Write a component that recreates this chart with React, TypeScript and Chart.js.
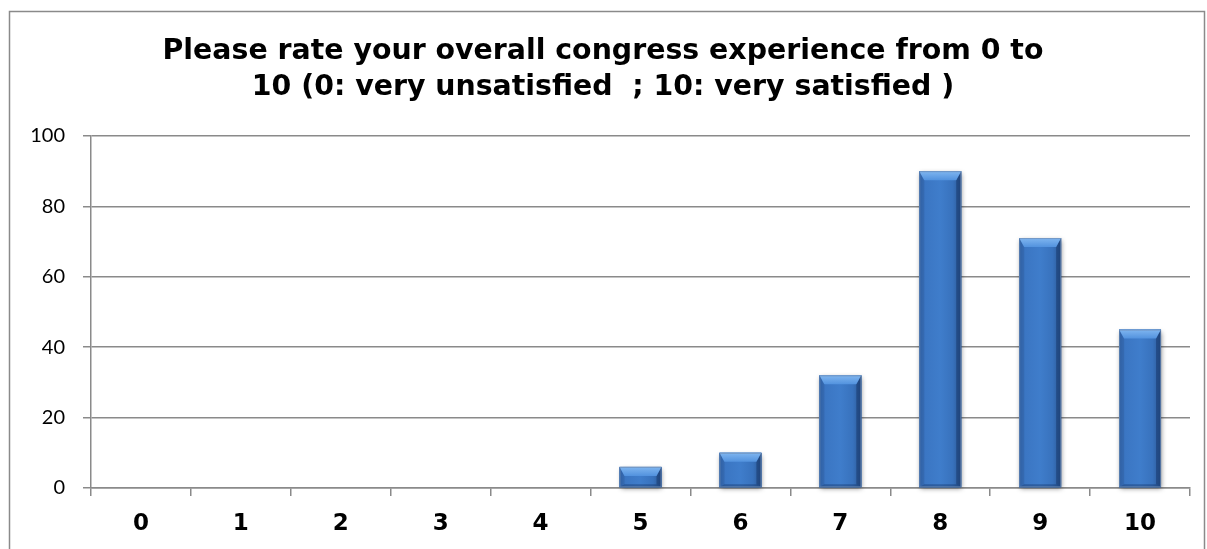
import React, { useEffect, useRef } from "react";
import { Chart, registerables } from "chart.js";

Chart.register(...registerables);

const categories = ["0", "1", "2", "3", "4", "5", "6", "7", "8", "9", "10"];
const responses = [0, 0, 0, 0, 0, 6, 10, 32, 90, 71, 45];
const yTickValues = [0, 20, 40, 60, 80, 100];
const titleLines = [
  "Please rate your overall congress experience from 0 to",
  "10 (0: very unsatisfied  ; 10: very satisfied )",
];

const GRID = "#8a8a8a";

const framePlugin = {
  id: "frame",
  beforeDraw(chart: any) {
    const ctx = chart.ctx;
    ctx.save();
    ctx.fillStyle = "#ffffff";
    ctx.fillRect(0, 0, chart.width, chart.height);
    ctx.strokeStyle = GRID;
    ctx.lineWidth = 1.5;
    ctx.strokeRect(9.5, 11.5, 1195, 600);
    ctx.restore();
  },
};

function barRects(chart: any) {
  const meta = chart.getDatasetMeta(0);
  return meta.data
    .map((el: any) => {
      const p = el.getProps(["x", "y", "base", "width"], true);
      return { x0: p.x - p.width / 2, x1: p.x + p.width / 2, y: p.y, base: p.base };
    })
    .filter((r: any) => r.base - r.y >= 1);
}

const bevelPlugin = {
  id: "bevel",
  beforeDatasetsDraw(chart: any) {
    const ctx = chart.ctx;
    barRects(chart).forEach((r: any) => {
      ctx.save();
      ctx.shadowColor = "rgba(0,0,0,0.45)";
      ctx.shadowBlur = 5;
      ctx.shadowOffsetX = 1;
      ctx.shadowOffsetY = 2;
      ctx.fillStyle = "#2f66ad";
      ctx.fillRect(r.x0, r.y, r.x1 - r.x0, r.base - r.y);
      ctx.restore();
    });
  },
  afterDatasetsDraw(chart: any) {
    const ctx = chart.ctx;
    barRects(chart).forEach((r: any) => {
      const w = r.x1 - r.x0;
      const h = r.base - r.y;
      ctx.save();
      const g = ctx.createLinearGradient(r.x0, 0, r.x1, 0);
      g.addColorStop(0, "#3569ae");
      g.addColorStop(0.15, "#3b76c3");
      g.addColorStop(0.5, "#3f7dcb");
      g.addColorStop(0.8, "#3872bd");
      g.addColorStop(1, "#2b5794");
      ctx.fillStyle = g;
      ctx.fillRect(r.x0, r.y, w, h);
      const b = Math.min(9, h / 2);
      const s = Math.min(5, w / 4);
      const bb = Math.min(3, h / 4);
      ctx.fillStyle = "rgba(25,55,105,0.15)";
      ctx.beginPath();
      ctx.moveTo(r.x0, r.y);
      ctx.lineTo(r.x0 + s, r.y + b);
      ctx.lineTo(r.x0 + s, r.base - bb);
      ctx.lineTo(r.x0, r.base);
      ctx.closePath();
      ctx.fill();
      ctx.fillStyle = "rgba(15,40,85,0.4)";
      ctx.beginPath();
      ctx.moveTo(r.x1, r.y);
      ctx.lineTo(r.x1 - s, r.y + b);
      ctx.lineTo(r.x1 - s, r.base - bb);
      ctx.lineTo(r.x1, r.base);
      ctx.closePath();
      ctx.fill();
      ctx.fillStyle = "rgba(15,40,85,0.35)";
      ctx.beginPath();
      ctx.moveTo(r.x0, r.base);
      ctx.lineTo(r.x0 + s, r.base - bb);
      ctx.lineTo(r.x1 - s, r.base - bb);
      ctx.lineTo(r.x1, r.base);
      ctx.closePath();
      ctx.fill();
      const tg = ctx.createLinearGradient(0, r.y, 0, r.y + b);
      tg.addColorStop(0, "#80b6f0");
      tg.addColorStop(1, "#5292de");
      ctx.fillStyle = tg;
      ctx.beginPath();
      ctx.moveTo(r.x0, r.y);
      ctx.lineTo(r.x1, r.y);
      ctx.lineTo(r.x1 - s, r.y + b);
      ctx.lineTo(r.x0 + s, r.y + b);
      ctx.closePath();
      ctx.fill();
      ctx.strokeStyle = "rgba(110,140,180,0.7)";
      ctx.lineWidth = 1;
      ctx.strokeRect(r.x0 + 0.5, r.y + 0.5, w - 1, h - 1);
      ctx.restore();
    });
  },
};

export default function App() {
  const ref = useRef<HTMLCanvasElement | null>(null);

  useEffect(() => {
    if (!ref.current) return;
    const chart = new Chart(ref.current, {
      type: "bar",
      data: {
        labels: categories,
        datasets: [
          {
            data: responses,
            backgroundColor: "#3b79c7",
            borderWidth: 0,
            barPercentage: 0.42,
            categoryPercentage: 1,
          },
        ],
      },
      options: {
        responsive: false,
        animation: false,
        devicePixelRatio: 1,
        layout: { padding: { left: 16, right: 17, top: 0, bottom: 0 } },
        plugins: {
          legend: { display: false },
          tooltip: { enabled: false },
          title: {
            display: true,
            text: titleLines,
            color: "#000000",
            font: { family: "'DejaVu Sans', Verdana, sans-serif", size: 28.4, weight: "bold", lineHeight: 1.25 },
            padding: { top: 34, bottom: 31 },
          },
        },
        scales: {
          x: {
            grid: {
              display: true,
              drawOnChartArea: false,
              drawTicks: true,
              tickLength: 8,
              color: GRID,
              lineWidth: 1.5,
              offset: true,
            },
            border: { display: true, color: GRID, width: 1.5 },
            ticks: {
              color: "#000000",
              padding: 14,
              font: { family: "'DejaVu Sans', Verdana, sans-serif", size: 23, weight: "bold" },
            },
            afterFit(scale: any) {
              scale.height = 61;
            },
          },
          y: {
            min: 0,
            max: 100,
            afterBuildTicks(scale: any) {
              scale.ticks = yTickValues.map((v) => ({ value: v }));
            },
            grid: { color: GRID, tickLength: 8, lineWidth: 1.5 },
            border: { display: true, color: GRID, width: 1.5 },
            ticks: {
              color: "#000000",
              padding: 18,
              font: { family: "Lato, 'Open Sans', sans-serif", size: 20 },
            },
            afterFit(scale: any) {
              scale.width = 75;
            },
          },
        },
      },
      plugins: [framePlugin, bevelPlugin],
    });
    return () => chart.destroy();
  }, []);

  return (
    <div style={{ position: "fixed", left: 0, top: 0, width: 1207, height: 549 }}>
      <canvas ref={ref} width={1207} height={549} style={{ display: "block" }} />
    </div>
  );
}
